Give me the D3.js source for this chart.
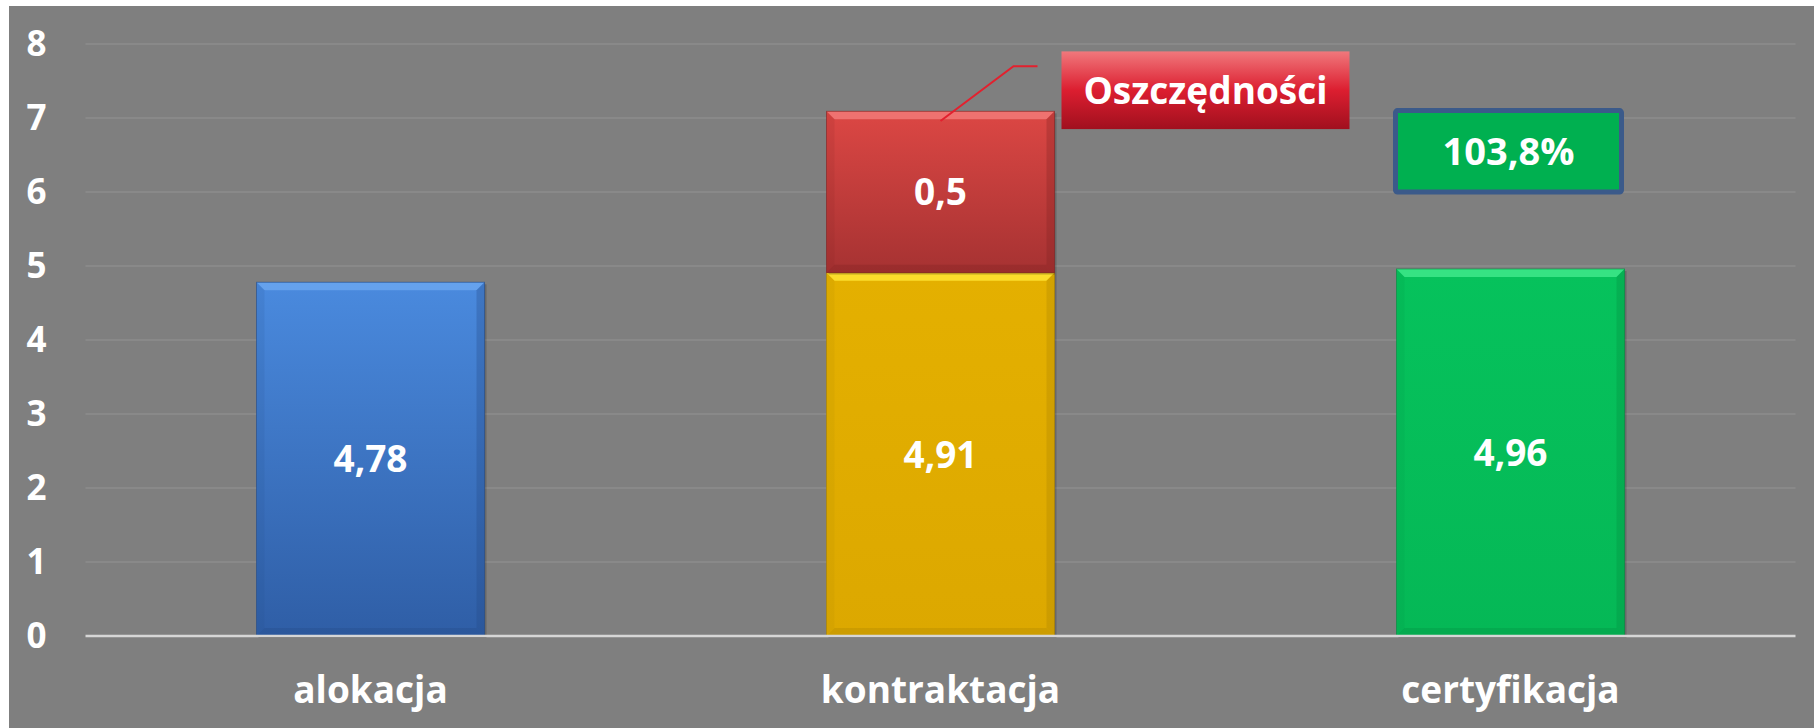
<!DOCTYPE html>
<html lang="pl">
<head>
<meta charset="UTF-8">
<title>Alokacja, kontraktacja, certyfikacja</title>
<script src="https://d3js.org/d3.v7.min.js"></script>
<style>
    html, body { margin: 0; padding: 0; background: #ffffff; }
    svg { display: block; }
    text { font-family: "Open Sans", "DejaVu Sans", sans-serif; font-weight: 700; fill: #ffffff; }
</style>
</head>
<body>
<div id="chart"></div>
<script>
    // chart data
    const categories = ["alokacja", "kontraktacja", "certyfikacja"];
    const baseValues = [4.78, 4.91, 4.96];
    const baseLabels = ["4,78", "4,91", "4,96"];
    const savingsValues = [0, 2.18, 0];      // drawn height of the red segment
    const savingsLabels = ["", "0,5", ""];
    const yTicks = [0, 1, 2, 3, 4, 5, 6, 7, 8];
    const calloutText = "Oszczędności";
    const percentText = "103,8%";

    const W = 1814, H = 728;
    const margin = {left: 85.5, right: 18.5, top: 44, bottom: 92};

    const baseColors = [
        {top: "#4a8ade", bottom: "#2f5ea6", bevel: "#6aa6f0", dark: "#234a86"},
        {top: "#e4b000", bottom: "#dca800", bevel: "#ffe433", dark: "#a88000"},
        {top: "#06c25c", bottom: "#05b856", bevel: "#3fe88a", dark: "#048a40"}
    ];
    const savingsColor = {top: "#dc4744", bottom: "#a63232", bevel: "#f27a78", dark: "#7e2222"};

    const svg = d3.select("#chart").append("svg")
        .attr("width", W)
        .attr("height", H);

    const defs = svg.append("defs");

    // background
    svg.append("rect")
        .attr("x", 9).attr("y", 6)
        .attr("width", W - 9).attr("height", H - 6)
        .attr("fill", "#7f7f7f");

    const x = d3.scaleBand()
        .domain(categories)
        .range([margin.left, W - margin.right])
        .paddingInner(0.6)
        .paddingOuter(0.3);

    const y = d3.scaleLinear()
        .domain([0, 8])
        .range([H - margin.bottom, margin.top]);

    // gridlines
    svg.append("g")
        .selectAll("line")
        .data(yTicks.filter(d => d > 0))
        .join("line")
        .attr("x1", margin.left)
        .attr("x2", W - margin.right)
        .attr("y1", d => y(d))
        .attr("y2", d => y(d))
        .attr("stroke", "#8d8d8d")
        .attr("stroke-width", 1.5);

    function gradient(id, c) {
        const g = defs.append("linearGradient")
            .attr("id", id)
            .attr("x1", 0).attr("y1", 0).attr("x2", 0).attr("y2", 1);
        g.append("stop").attr("offset", "0%").attr("stop-color", c.top);
        g.append("stop").attr("offset", "100%").attr("stop-color", c.bottom);
    }

    // bevelled bar segment
    function drawSegment(g, x0, y0, w, h, c, id) {
        const b = Math.min(8, h / 4);
        gradient(id, c);
        g.append("rect")
            .attr("x", x0 + 2).attr("y", y0 + 2)
            .attr("width", w).attr("height", h)
            .attr("fill", "#000").attr("opacity", 0.18);
        g.append("rect")
            .attr("x", x0).attr("y", y0)
            .attr("width", w).attr("height", h)
            .attr("fill", `url(#${id})`);
        // top bevel
        g.append("polygon")
            .attr("points", [[x0, y0], [x0 + w, y0], [x0 + w - b, y0 + b], [x0 + b, y0 + b]].join(" "))
            .attr("fill", c.bevel).attr("opacity", 0.85);
        // bottom bevel
        g.append("polygon")
            .attr("points", [[x0, y0 + h], [x0 + w, y0 + h], [x0 + w - b, y0 + h - b], [x0 + b, y0 + h - b]].join(" "))
            .attr("fill", c.dark).attr("opacity", 0.3);
        // side bevels
        g.append("polygon")
            .attr("points", [[x0, y0], [x0 + b, y0 + b], [x0 + b, y0 + h - b], [x0, y0 + h]].join(" "))
            .attr("fill", c.dark).attr("opacity", 0.12);
        g.append("polygon")
            .attr("points", [[x0 + w, y0], [x0 + w - b, y0 + b], [x0 + w - b, y0 + h - b], [x0 + w, y0 + h]].join(" "))
            .attr("fill", c.dark).attr("opacity", 0.3);
        g.append("rect")
            .attr("x", x0).attr("y", y0)
            .attr("width", w).attr("height", h)
            .attr("fill", "none")
            .attr("stroke", c.dark).attr("stroke-opacity", 0.6).attr("stroke-width", 1);
    }

    const bars = svg.append("g");
    categories.forEach((cat, i) => {
        const x0 = x(cat), w = x.bandwidth();
        drawSegment(bars, x0, y(baseValues[i]), w, y(0) - y(baseValues[i]), baseColors[i], "base" + i);
        if (savingsValues[i] > 0) {
            const top = baseValues[i] + savingsValues[i];
            drawSegment(bars, x0, y(top), w, y(baseValues[i]) - y(top), savingsColor, "sav" + i);
        }
    });

    // value labels
    const labels = svg.append("g")
        .attr("text-anchor", "middle")
        .style("font-size", "37px");
    categories.forEach((cat, i) => {
        const cx = x(cat) + x.bandwidth() / 2;
        labels.append("text")
            .attr("x", cx)
            .attr("y", y(baseValues[i] / 2))
            .attr("dy", "0.36em")
            .text(baseLabels[i]);
        if (savingsLabels[i]) {
            labels.append("text")
                .attr("x", cx)
                .attr("y", y(baseValues[i] + savingsValues[i] / 2))
                .attr("dy", "0.36em")
                .text(savingsLabels[i]);
        }
    });

    // baseline
    svg.append("line")
        .attr("x1", margin.left).attr("x2", W - margin.right)
        .attr("y1", y(0)).attr("y2", y(0))
        .attr("stroke", "#d6d6d6").attr("stroke-width", 2.5);

    // axes
    const yAxis = svg.append("g")
        .attr("transform", `translate(${margin.left},0)`)
        .call(d3.axisLeft(y).tickValues(yTicks).tickFormat(d3.format("d")).tickSize(0).tickPadding(39));
    yAxis.select(".domain").remove();
    yAxis.selectAll("text")
        .attr("fill", "#fff")
        .style("font-size", "35px")
        .style("font-family", "'Open Sans', sans-serif")
        .style("font-weight", 700);

    const xAxis = svg.append("g")
        .attr("transform", `translate(0,${y(0)})`)
        .call(d3.axisBottom(x).tickSize(0).tickPadding(41));
    xAxis.select(".domain").remove();
    xAxis.selectAll("text")
        .attr("fill", "#fff")
        .style("font-size", "37px")
        .style("font-family", "'Open Sans', sans-serif")
        .style("font-weight", 700);

    // callout "Oszczędności"
    const ci = 1;
    const barCx = x(categories[ci]) + x.bandwidth() / 2;
    const boxX = x(categories[ci]) + x.bandwidth() + 7;
    const boxW = 288;
    const boxTop = y(7.9), boxBot = y(6.85);

    const cg = defs.append("linearGradient")
        .attr("id", "calloutGrad")
        .attr("x1", 0).attr("y1", 0).attr("x2", 0).attr("y2", 1);
    cg.append("stop").attr("offset", "0%").attr("stop-color", "#f0787c");
    cg.append("stop").attr("offset", "50%").attr("stop-color", "#dc1e30");
    cg.append("stop").attr("offset", "100%").attr("stop-color", "#a0101e");

    svg.append("polyline")
        .attr("points", [[barCx, y(6.96)], [barCx + 73, y(7.7)], [barCx + 97, y(7.7)]].join(" "))
        .attr("fill", "none")
        .attr("stroke", "#e3202e")
        .attr("stroke-width", 2);

    svg.append("rect")
        .attr("x", boxX).attr("y", boxTop)
        .attr("width", boxW).attr("height", boxBot - boxTop)
        .attr("fill", "url(#calloutGrad)");

    svg.append("text")
        .attr("x", boxX + boxW / 2)
        .attr("y", (boxTop + boxBot) / 2)
        .attr("dy", "0.36em")
        .attr("text-anchor", "middle")
        .style("font-size", "37px")
        .text(calloutText);

    // percent box over certyfikacja
    const pi = 2;
    const pTop = y(7.1), pBot = y(6.0);
    svg.append("rect")
        .attr("x", x(categories[pi]) - 1)
        .attr("y", pTop)
        .attr("width", x.bandwidth() - 2)
        .attr("height", pBot - pTop)
        .attr("rx", 2)
        .attr("fill", "#00b050")
        .attr("stroke", "#3b5a8a")
        .attr("stroke-width", 5);

    svg.append("text")
        .attr("x", x(categories[pi]) + x.bandwidth() / 2 - 2)
        .attr("y", (pTop + pBot) / 2)
        .attr("dy", "0.36em")
        .attr("text-anchor", "middle")
        .style("font-size", "38px")
        .text(percentText);
</script>
</body>
</html>
